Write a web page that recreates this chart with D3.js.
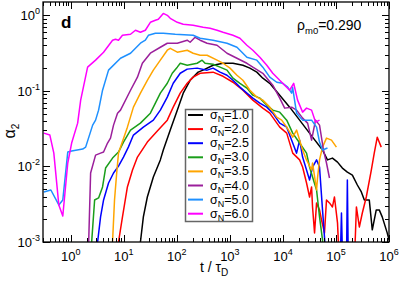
<!DOCTYPE html>
<html>
<head>
<meta charset="utf-8">
<script src="https://cdn.jsdelivr.net/npm/d3@7"></script>
<style>
  body { margin: 0; background: #fff; }
  text { font-family: "Liberation Sans", Arial, sans-serif; }
</style>
</head>
<body>
<script>
// values, [t/tauD, alpha2]; 5e-4 means "dropped below the axis"
var sigmaN = ["1.0", "2.0", "2.5", "3.0", "3.5", "4.0", "5.0", "6.0"];
var colors = ["#000000", "#ff0000", "#0000ff", "#1a9e1a", "#ffa500", "#9b1f9b", "#1e90ff", "#ff00ff"];

var s10 = [[19.7,5e-4],[20.6,0.001],[23.4,0.00215],[27.8,0.00394],[36.1,0.00724],[48.9,0.0122],[55.6,0.0165],
  [75.2,0.0303],[102,0.0556],[132,0.0933],[178,0.138],[252,0.177],[313,0.188],[482,0.218],[743,0.232],
  [1143,0.232],[1762,0.218],[2384,0.2],[3222,0.177],[4178,0.147],[5649,0.126],[8710,0.0877],[13420,0.0609],
  [20650,0.041],[36230,0.0244],[55800,0.0165],[69200,0.0122],[85900,0.0129],[107000,0.0114],[132000,0.00952],
  [164000,0.00843],[204000,0.00769],[253000,0.00568],[301000,0.00459],[343000,0.0036],[425000,0.0036],
  [484000,0.00145],[575000,0.00266],[655000,0.00266],[745000,0.00215],[925000,0.00132],[1.0e6,0.00107]];

var s20 = [[7.62,5e-4],[7.95,0.001],[9.45,0.00215],[11.7,0.00535],[14.6,0.00896],[18.1,0.0133],[27.8,0.021],
  [42.9,0.0294],[66.1,0.041],[85.5,0.0609],[116,0.0933],[157,0.126],[203,0.152],[275,0.171],[482,0.177],
  [743,0.156],[1143,0.13],[1762,0.102],[2712,0.0754],[4178,0.0591],[5649,0.0507],[8710,0.0331],[11800,0.0276],
  [15300,0.015],[20650,0.0122],[23500,0.00982],[27900,0.00604],[31800,0.00394],[34700,0.00535],[36200,0.00291],
  [39500,0.00132],[43100,0.00329],[49000,0.00266],[53400,0.00196],[60800,0.00132],[66300,0.0036],[75500,0.00329],
  [85900,0.00291],[93700,0.00394],[107000,0.00179],[116000,5e-4],[222000,5e-4],[243000,0.00291],[276000,0.00158],
  [314000,0.00242],[373000,0.00394],[464000,0.00896],[527000,0.015],[601000,0.0244],[714000,0.018]];

var s25 = [[3.07,5e-4],[3.21,0.001],[3.65,0.00215],[4.16,0.0036],[5.16,0.00604],[6.41,0.00818],[7.95,0.0101],
  [9.87,0.0133],[12.2,0.018],[15.2,0.026],[23.4,0.0331],[36.1,0.041],[48.9,0.0556],[66.1,0.0826],[85.5,0.126],
  [116,0.171],[157,0.194],[241,0.2],[372,0.188],[482,0.2],[652,0.177],[883,0.161],[1143,0.138],[1549,0.112],
  [2094,0.0933],[2712,0.0801],[3672,0.0688],[4966,0.0609],[6442,0.0507],[8710,0.0374],[11800,0.0331],
  [15300,0.0204],[18100,0.015],[20650,0.0223],[23500,0.0133],[31800,0.00661],[36200,0.00982],[43100,0.0122],
  [49000,0.00982],[55800,0.00266],[66300,5e-4],[120000,5e-4],[127000,0.00242],[134000,5e-4],[158000,5e-4],
  [164000,0.00661],[171000,5e-4]];

var s30 = [[2.37,5e-4],[2.48,0.001],[2.82,0.0036],[3.35,0.00383],[3.98,0.00535],[4.54,0.00952],[6.14,0.0129],
  [7.95,0.0155],[9.87,0.021],[13.4,0.0303],[20.6,0.0374],[31.7,0.0507],[39.4,0.0688],[48.9,0.0933],[66.1,0.126],
  [82,0.171],[102,0.206],[116,0.232],[157,0.218],[241,0.232],[300,0.255],[341,0.232],[482,0.225],[652,0.206],
  [883,0.188],[1143,0.147],[1549,0.126],[2094,0.109],[2712,0.0877],[3672,0.0801],[4966,0.0648],[6442,0.0556],
  [8710,0.0523],[11800,0.041],[15300,0.0276],[20650,0.0204],[27900,0.015],[31800,0.00982],[36200,0.00724],
  [43100,0.00488],[49000,0.00215],[55800,0.00107],[58200,5e-4]];

var s35 = [[5.88,5e-4],[6.14,0.001],[6.69,0.0036],[7.3,0.00769],[7.95,0.015],[8.67,0.018],[11.7,0.0331],
  [15.2,0.0609],[20.6,0.0933],[27.8,0.138],[36.1,0.188],[48.9,0.255],[66.1,0.345],[75.2,0.366],[102,0.325],
  [157,0.345],[203,0.315],[275,0.296],[372,0.296],[573,0.255],[743,0.232],[1005,0.2],[1360,0.161],[1762,0.138],
  [2384,0.102],[3222,0.0826],[4178,0.0754],[5649,0.0609],[7650,0.045],[9480,0.041],[11800,0.0331],[15300,0.0244],
  [18100,0.0303],[23500,0.0165],[27900,0.0122],[34700,0.00896],[36200,0.0111],[43100,0.00488],[44900,0.00703],
  [49000,0.0122],[55800,0.018],[66300,0.0237],[82400,0.0223],[102000,0.018]];

var s40 = [[2.08,5e-4],[2.18,0.001],[2.37,0.00818],[2.94,0.0141],[3.65,0.015],[4.16,0.0155],[4.94,0.0204],
  [5.62,0.0237],[6.41,0.0352],[7.62,0.0507],[8.67,0.0556],[13.4,0.102],[18.1,0.152],[22.4,0.232],[31.7,0.315],
  [48.9,0.378],[66.1,0.427],[102,0.427],[157,0.468],[178,0.44],[221,0.512],[275,0.468],[372,0.427],[573,0.402],
  [883,0.315],[1360,0.27],[2094,0.232],[2712,0.206],[4178,0.171],[6442,0.119],[8710,0.0801],[10800,0.0591],
  [14600,0.0609],[18100,0.0556],[23500,0.0436],[29200,0.0374],[34700,0.0223],[41200,0.041],[49000,0.0352],
  [58200,0.0165],[66300,0.0111],[75500,0.00703]];

var s50 = [[0.311,0.00459],[0.422,0.00488],[0.596,0.00309],[0.708,0.0036],[0.879,0.0155],[1.04,0.016],
  [1.68,0.017],[1.91,0.018],[2.59,0.0352],[2.94,0.041],[3.35,0.0556],[3.98,0.102],[5.16,0.188],[8.67,0.27],
  [13.4,0.315],[20.6,0.427],[25.5,0.468],[29.1,0.544],[39.4,0.578],[55.6,0.578],[93.3,0.561],[203,0.544],
  [275,0.497],[482,0.468],[883,0.427],[1360,0.378],[2094,0.279],[3222,0.255],[4178,0.206],[5649,0.152],
  [7650,0.13],[9910,0.126],[12300,0.112],[14600,0.0933],[15200,0.112],[18100,0.0507],[23500,0.041],
  [34700,0.041],[43100,0.0331],[49000,0.021],[55800,0.0165],[69200,0.0175]];

var s60 = [[0.311,0.0276],[0.404,0.026],[0.48,0.015],[0.596,0.00309],[0.708,0.00221],[0.879,0.0111],
  [1.04,0.0204],[1.35,0.0374],[1.54,0.0754],[2.08,0.206],[2.94,0.255],[4.16,0.325],[6.14,0.468],[6.98,0.482],
  [7.95,0.468],[9.45,0.544],[13.4,0.561],[16.6,0.634],[20.6,0.596],[25.5,0.634],[31.7,0.808],[39.4,0.859],
  [44.8,0.886],[55.6,1.06],[66.1,1.0],[75.2,0.913],[102,0.808],[132,0.761],[203,0.738],[313,0.694],[423,0.673],
  [573,0.634],[743,0.596],[1143,0.544],[1546,0.497],[2094,0.402],[2712,0.345],[3672,0.279],[4966,0.218],
  [6442,0.171],[7987,0.147],[8710,0.138],[10800,0.119],[13400,0.102],[15950,0.126],[18900,0.0754],
  [23500,0.0523],[27900,0.0591],[34700,0.0556],[41200,0.0386],[49000,0.041]];

var series = [s10, s20, s25, s30, s35, s40, s50, s60];
var xTicks = [1, 10, 100, 1000, 10000, 100000, 1000000];
var xTickExp = ["0", "1", "2", "3", "4", "5", "6"];
var yTicks = [0.001, 0.01, 0.1, 1];
var yTickExp = ["-3", "-2", "-1", "0"];

var width = 399, height = 281;
var plotL = 43, plotR = 389, plotT = 2, plotB = 242;

var svg = d3.select("body").append("svg")
    .attr("width", width)
    .attr("height", height);

svg.append("rect").attr("width", width).attr("height", height).attr("fill", "#fff");

var x = d3.scaleLog().domain([0.3, 1e6]).range([plotL, plotR]);
var y = d3.scaleLog().domain([0.001, 1.5]).range([plotB, plotT]);

svg.append("clipPath").attr("id", "clip")
  .append("rect")
    .attr("x", plotL).attr("y", plotT)
    .attr("width", plotR - plotL).attr("height", plotB - plotT);

var line = d3.line()
    .x(function(d) { return x(d[0]); })
    .y(function(d) { return y(d[1]); });

svg.append("g").attr("clip-path", "url(#clip)")
  .selectAll("path").data(series).enter()
  .append("path")
    .attr("d", line)
    .attr("fill", "none")
    .attr("stroke", function(d, i) { return colors[i]; })
    .attr("stroke-width", 1.5)
    .attr("stroke-linejoin", "round");

// ticks: all four sides, pointing inward
var xMinor = [];
for (var e = -1; e < 6; e++) {
  for (var m = 2; m <= 9; m++) {
    var v = m * Math.pow(10, e);
    if (v >= 0.3 && v <= 1e6) xMinor.push(v);
  }
}
var yMinor = [];
for (var e2 = -3; e2 < 0; e2++) {
  for (var m2 = 2; m2 <= 9; m2++) yMinor.push(m2 * Math.pow(10, e2));
}

var ticks = svg.append("g").attr("stroke", "#000").attr("stroke-width", 1);

function xTickMarks(vals, len) {
  vals.forEach(function(v) {
    var px = Math.round(x(v)) + 0.5;
    ticks.append("line").attr("x1", px).attr("x2", px).attr("y1", plotB).attr("y2", plotB - len);
    ticks.append("line").attr("x1", px).attr("x2", px).attr("y1", plotT).attr("y2", plotT + len);
  });
}
function yTickMarks(vals, len) {
  vals.forEach(function(v) {
    var py = Math.round(y(v)) + 0.5;
    ticks.append("line").attr("x1", plotL).attr("x2", plotL + len).attr("y1", py).attr("y2", py);
    ticks.append("line").attr("x1", plotR).attr("x2", plotR - len).attr("y1", py).attr("y2", py);
  });
}
xTickMarks(xTicks, 7);
xTickMarks(xMinor, 4);
yTickMarks(yTicks, 7);
yTickMarks(yMinor, 4);

svg.append("rect")
    .attr("x", plotL).attr("y", plotT)
    .attr("width", plotR - plotL).attr("height", plotB - plotT)
    .attr("fill", "none").attr("stroke", "#000").attr("stroke-width", 1.3);

// tick labels
var xl = svg.append("g").attr("font-size", 13).attr("text-anchor", "middle");
xTicks.forEach(function(v, i) {
  var t = xl.append("text").attr("x", x(v)).attr("y", 261);
  t.append("tspan").text("10");
  t.append("tspan").attr("dy", -6).attr("font-size", 9).text(xTickExp[i]);
});

var yl = svg.append("g").attr("font-size", 13).attr("text-anchor", "end");
yTicks.forEach(function(v, i) {
  var t = yl.append("text").attr("x", 40).attr("y", y(v) + 5);
  t.append("tspan").text("10");
  t.append("tspan").attr("dy", -6).attr("font-size", 9).text(yTickExp[i]);
});

// axis titles
var xt = svg.append("text").attr("x", 200).attr("y", 272).attr("font-size", 14);
xt.append("tspan").text("t / \u03c4");
xt.append("tspan").attr("dy", 4).attr("font-size", 10).text("D");

var yt = svg.append("text").attr("transform", "translate(15,131) rotate(-90)")
    .attr("text-anchor", "middle").attr("font-size", 16);
yt.append("tspan").text("\u03b1");
yt.append("tspan").attr("dy", 4).attr("font-size", 10).text("2");

svg.append("text").attr("x", 61).attr("y", 28)
    .attr("font-size", 17).attr("font-weight", "bold").text("d");

var rho = svg.append("text").attr("x", 297).attr("y", 30).attr("font-size", 14);
rho.append("tspan").text("\u03c1");
rho.append("tspan").attr("dy", 4).attr("font-size", 9.5).text("m0");
rho.append("tspan").attr("dy", -4).text("=0.290");

// legend
var leg = svg.append("g");
leg.append("rect")
    .attr("x", 185.5).attr("y", 109.5).attr("width", 67).attr("height", 112)
    .attr("fill", "#fff").attr("stroke", "#666").attr("stroke-width", 1.5);

var rows = leg.selectAll(".row").data(sigmaN).enter().append("g")
    .attr("transform", function(d, i) { return "translate(0," + (115 + i * 14.1) + ")"; });
rows.append("line")
    .attr("x1", 188).attr("x2", 203).attr("y1", 0).attr("y2", 0)
    .attr("stroke", function(d, i) { return colors[i]; })
    .attr("stroke-width", 2);
var lt = rows.append("text").attr("x", 210).attr("y", 4).attr("font-size", 12.5);
lt.append("tspan").text("\u03c3");
lt.append("tspan").attr("dy", 3).attr("font-size", 9).text("N");
lt.append("tspan").attr("dy", -3).text(function(d) { return "=" + d; });
</script>
</body>
</html>
